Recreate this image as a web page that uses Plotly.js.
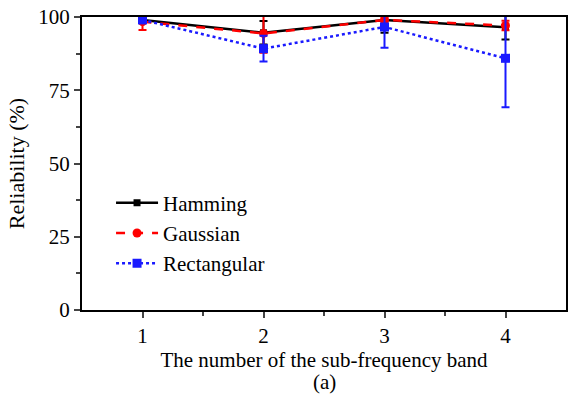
<!DOCTYPE html>
<html>
<head>
<meta charset="utf-8">
<script src="https://cdn.plot.ly/plotly-3.0.1.min.js"></script>
<style>html,body{margin:0;padding:0;background:#fff;overflow:hidden;}
#chart{width:570px;height:397px;}
#chart text{font-family:'Liberation Serif','Times New Roman',serif !important;}</style>
</head>
<body>
<div id="chart"></div>
<script>
var bands = [1, 2, 3, 4];
var hamming = [99.0, 94.6, 99.0, 96.5];
var hammingErr = [0.8, 4.0, 4.4, 4.2];
var gaussian = [98.4, 94.4, 99.0, 97.1];
var gaussianErr = [2.8, 6.6, 1.0, 1.6];
var rectangular = [99.0, 89.2, 96.6, 85.9];
var rectangularErr = [0.8, 4.4, 7.1, 16.7];

var font = 'Liberation Serif';

function tr(name, y, err, color, dash, symbol, size) {
  return {
    x: bands, y: y, name: name, type: 'scatter', mode: 'lines+markers',
    line: {color: color, width: 2.5, dash: dash},
    marker: {color: color, symbol: symbol, size: size},
    error_y: {type: 'data', array: err, visible: true, color: color, thickness: 2, width: 4}
  };
}

var data = [
  tr('Hamming', hamming, hammingErr, '#000000', 'solid', 'square', 7),
  tr('Gaussian', gaussian, gaussianErr, '#ff0000', 'dash', 'circle', 9),
  tr('Rectangular', rectangular, rectangularErr, '#1a1aff', 'dot', 'square', 9)
];

var layout = {
  width: 570, height: 397,
  margin: {l: 82, r: 4, t: 17, b: 87},
  paper_bgcolor: '#fff', plot_bgcolor: '#fff',
  font: {family: font, size: 21, color: '#000'},
  showlegend: true,
  legend: {x: 0.06, y: 0.435, xanchor: 'left', yanchor: 'top', bgcolor: 'rgba(0,0,0,0)',
           font: {family: font, size: 21}, tracegroupgap: 0, itemwidth: 42},
  xaxis: {
    range: [0.5, 4.5], tickvals: [1, 2, 3, 4], ticks: 'outside', ticklen: 6, tickwidth: 2,
    showline: true, linewidth: 2, linecolor: '#000', mirror: true, showgrid: false, zeroline: false,
    minor: {tickvals: [1.5, 2.5, 3.5], ticks: 'outside', ticklen: 4, tickwidth: 2, showgrid: false},
    tickfont: {family: font, size: 21},
    title: {text: 'The number of the sub-frequency band', font: {family: font, size: 21}, standoff: 0}
  },
  yaxis: {
    range: [0, 100], tickvals: [0, 25, 50, 75, 100], ticks: 'outside', ticklen: 6, tickwidth: 2,
    showline: true, linewidth: 2, linecolor: '#000', mirror: true, showgrid: false, zeroline: false,
    minor: {tickvals: [12.5, 37.5, 62.5, 87.5], ticks: 'outside', ticklen: 4, tickwidth: 2, showgrid: false},
    tickfont: {family: font, size: 21},
    title: {text: 'Reliability (%)', font: {family: font, size: 22}, standoff: 8}
  },
  annotations: [{
    text: '(a)', xref: 'paper', yref: 'paper', x: 0.5, y: 0, yshift: -72,
    xanchor: 'center', yanchor: 'middle', showarrow: false, font: {family: font, size: 21}
  }]
};

Plotly.newPlot('chart', data, layout, {displayModeBar: false, staticPlot: true});
</script>
</body>
</html>
